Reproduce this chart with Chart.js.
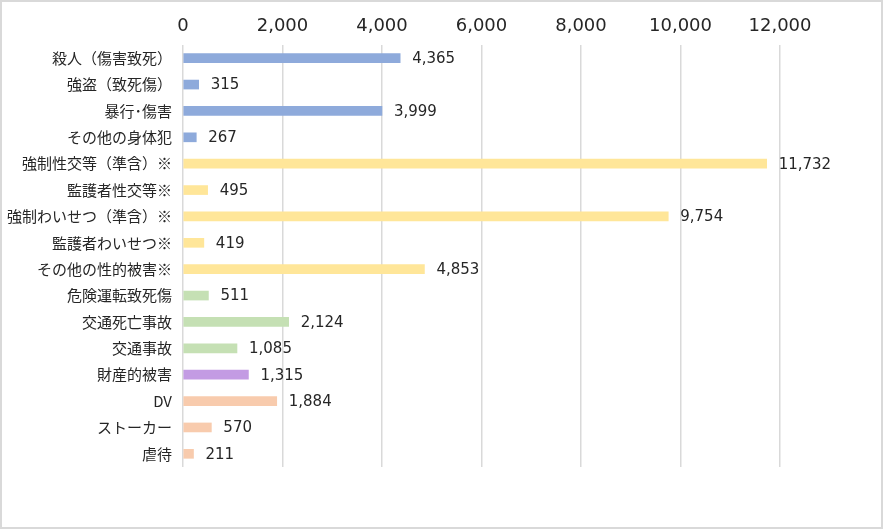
<!DOCTYPE html>
<html>
<head>
<meta charset="utf-8">
<script src="https://cdn.jsdelivr.net/npm/chart.js@4"></script>
<style>
  body { margin: 0; background: #fff; }
  #wrap { position: absolute; left: 0; top: 0; width: 883px; height: 529px; box-sizing: border-box; border: 2px solid #d9d9d9; background: #fff; }
  canvas { display: block; }
</style>
</head>
<body>
<div id="wrap"><canvas id="chart" width="879" height="525"></canvas></div>
<script>
const categories = [
  '殺人（傷害致死）', '強盗（致死傷）', '暴行･傷害', 'その他の身体犯',
  '強制性交等（準含）※', '監護者性交等※', '強制わいせつ（準含）※', '監護者わいせつ※',
  'その他の性的被害※', '危険運転致死傷', '交通死亡事故', '交通事故',
  '財産的被害', 'DV', 'ストーカー', '虐待'
];
const counts = [4365, 315, 3999, 267, 11732, 495, 9754, 419, 4853, 511, 2124, 1085, 1315, 1884, 570, 211];
const groups = ['body', 'body', 'body', 'body', 'sex', 'sex', 'sex', 'sex', 'sex', 'traffic', 'traffic', 'traffic', 'property', 'other', 'other', 'other'];
const groupColors = { body: '#8eaadb', sex: '#ffe699', traffic: '#c5e0b4', property: '#c39be3', other: '#f8cbad' };
const xTicks = [0, 2000, 4000, 6000, 8000, 10000, 12000];

const CJK = '"Noto Sans CJK JP", "Noto Sans", sans-serif';
const NUM = '"DejaVu Sans", "Noto Sans CJK JP", sans-serif';

const valueLabels = {
  id: 'valueLabels',
  afterDatasetsDraw(chart) {
    const ctx = chart.ctx;
    const meta = chart.getDatasetMeta(0);
    ctx.save();
    ctx.font = '15px ' + NUM;
    ctx.fillStyle = '#262626';
    ctx.textAlign = 'left';
    ctx.textBaseline = 'middle';
    meta.data.forEach((bar, i) => {
      ctx.fillText(counts[i].toLocaleString('en-US'), bar.x + 12, bar.y + 1);
    });
    ctx.restore();
  }
};

new Chart(document.getElementById('chart'), {
  type: 'bar',
  data: {
    labels: categories,
    datasets: [{
      data: counts,
      backgroundColor: groups.map(g => groupColors[g]),
      barThickness: 9
    }]
  },
  options: {
    indexAxis: 'y',
    responsive: false,
    animation: false,
    layout: { padding: { top: 0, right: 101, bottom: 60, left: 0 } },
    plugins: { legend: { display: false }, tooltip: { enabled: false } },
    scales: {
      x: {
        position: 'top',
        min: 0,
        max: 12000,
        afterBuildTicks: s => { s.ticks = xTicks.map(v => ({ value: v })); },
        afterFit: s => { s.height = 43; },
        grid: { color: '#d9d9d9', lineWidth: 1.5, drawTicks: false },
        border: { display: false },
        ticks: {
          padding: 8,
          color: '#262626',
          font: { family: NUM, size: 18 },
          callback: v => v.toLocaleString('en-US')
        }
      },
      y: {
        afterFit: s => { s.width = 181; },
        grid: { display: false, drawTicks: false },
        border: { display: false },
        ticks: {
          padding: 11,
          color: '#262626',
          font: { family: CJK, size: 15 },
          autoSkip: false
        }
      }
    }
  },
  plugins: [valueLabels]
});
</script>
</body>
</html>
